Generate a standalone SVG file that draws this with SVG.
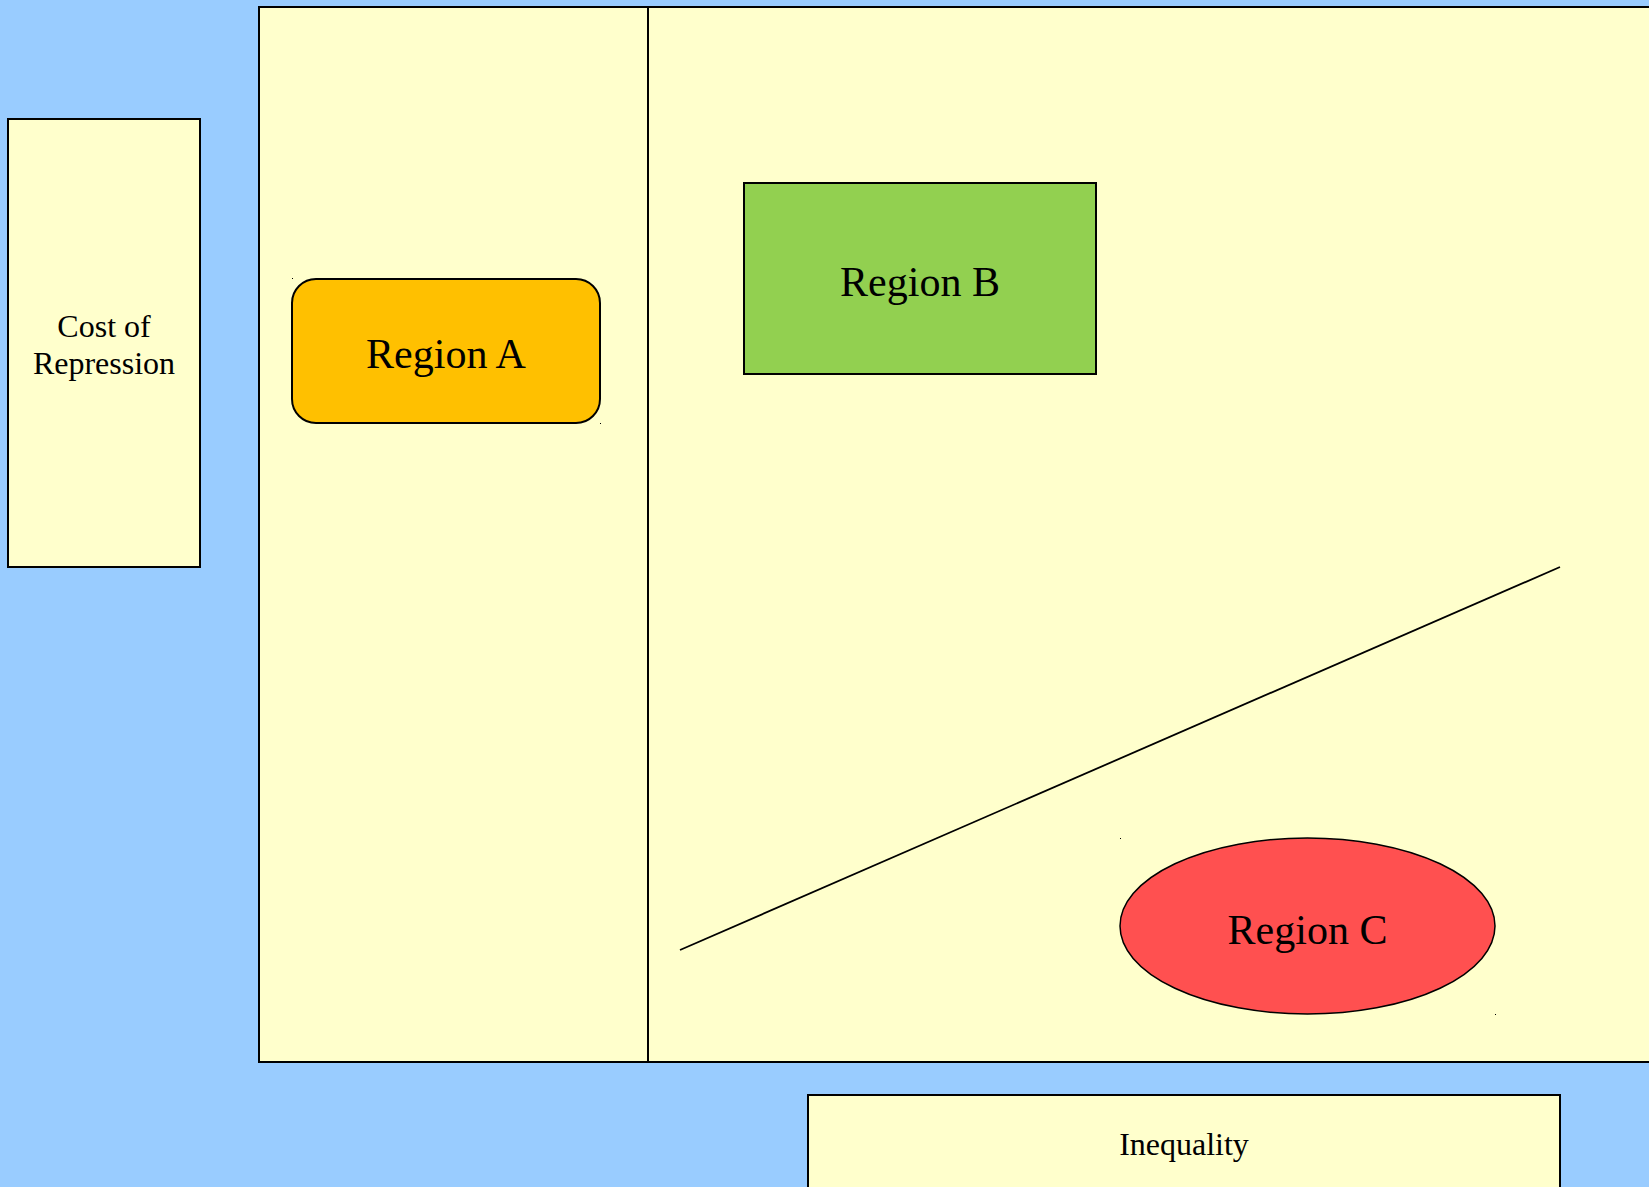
<svg xmlns="http://www.w3.org/2000/svg" width="1649" height="1187" viewBox="0 0 1649 1187">
<style>
.box{fill:#FFFFCC;stroke:#000;stroke-width:2}
.lbl{font-family:"Liberation Serif","Times New Roman",serif;fill:#000;text-anchor:middle}
.big{font-size:42px}
.sm{font-size:32px}
.dot{fill:#000}
</style>
<rect x="0" y="0" width="1649" height="1187" fill="#99CCFF"/>
<g id="plot">
<rect class="box" x="259" y="7" width="1400" height="1055"/>
<line x1="648" y1="7" x2="648" y2="1062" stroke="#000" stroke-width="2"/>
</g>
<g id="cost-of-repression">
<rect class="box" x="8" y="119" width="192" height="448"/>
<text class="lbl sm" x="104" y="337">Cost of</text>
<text class="lbl sm" x="104" y="374">Repression</text>
</g>
<g id="region-a">
<rect x="292" y="279" width="308" height="144" rx="24" ry="24" fill="#FFC000" stroke="#000" stroke-width="2"/>
<text class="lbl big" x="446" y="368">Region A</text>
<rect class="dot" x="292" y="278" width="1" height="1"/>
<rect class="dot" x="600" y="423" width="1" height="1"/>
</g>
<g id="region-b">
<rect x="744" y="183" width="352" height="191" fill="#92D050" stroke="#000" stroke-width="2"/>
<text class="lbl big" x="920" y="296">Region B</text>
</g>
<g id="region-c">
<ellipse cx="1307.5" cy="926" rx="187.5" ry="88" fill="#FF5050" stroke="#000" stroke-width="1.5"/>
<text class="lbl big" x="1307.5" y="944">Region C</text>
<rect class="dot" x="1120" y="838" width="1" height="1"/>
<rect class="dot" x="1495" y="1014" width="1" height="1"/>
</g>
<g id="inequality">
<rect class="box" x="808" y="1095" width="752" height="120"/>
<text class="lbl sm" x="1184" y="1155">Inequality</text>
</g>
<g id="connectors">
<line x1="680" y1="950" x2="1560" y2="567" stroke="#000" stroke-width="1.8"/>
</g>
</svg>
